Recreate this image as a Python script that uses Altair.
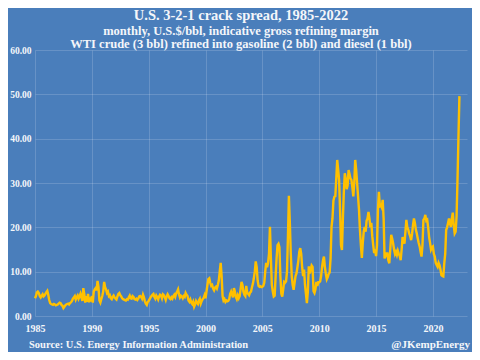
import altair as alt
import pandas as pd

# Monthly indicative 3-2-1 crack spread (US$/bbl)
y1985 = [4.0, 4.5, 5.3, 5.5, 5.2, 4.5, 4.2, 4.6, 4.9, 4.4, 4.6, 5.0]
y1986 = [5.4, 5.7, 4.8, 3.6, 2.9, 2.7, 2.6, 2.5, 2.7, 2.6, 2.4, 2.5]
y1987 = [2.6, 2.8, 3.0, 2.9, 2.5, 2.3, 1.8, 2.1, 2.4, 2.6, 2.7, 2.8]
y1988 = [2.6, 2.9, 3.1, 3.4, 3.9, 4.2, 4.5, 3.7, 4.2, 4.6, 3.9, 4.4]
y1989 = [5.0, 4.2, 3.4, 6.3, 5.0, 3.0, 4.5, 3.2, 5.0, 3.1, 4.2, 3.3]
y1990 = [4.5, 3.0, 5.5, 6.0, 6.3, 5.8, 7.9, 6.5, 3.5, 3.0, 3.8, 4.5]
y1991 = [5.5, 7.7, 6.5, 6.0, 5.2, 5.5, 4.5, 4.7, 4.0, 3.8, 4.3, 4.6]
y1992 = [4.2, 3.9, 3.7, 4.4, 5.0, 5.2, 4.7, 4.4, 4.0, 3.8, 3.7, 3.6]
y1993 = [3.5, 3.8, 3.7, 4.2, 4.6, 4.0, 3.9, 4.5, 4.3, 3.8, 3.7, 3.9]
y1994 = [3.6, 3.9, 4.4, 4.5, 4.3, 3.9, 4.8, 4.2, 3.3, 2.8, 2.5, 3.2]
y1995 = [3.4, 3.8, 4.2, 4.5, 4.8, 5.0, 4.3, 3.9, 4.6, 4.2, 3.7, 4.4]
y1996 = [4.8, 4.6, 4.0, 4.9, 4.7, 4.2, 3.6, 4.4, 4.9, 4.5, 4.0, 3.8]
y1997 = [4.2, 3.9, 4.5, 4.8, 4.3, 5.1, 5.5, 6.0, 4.9, 4.2, 4.6, 4.4]
y1998 = [4.0, 4.5, 4.3, 5.2, 4.8, 4.5, 3.5, 3.2, 3.7, 3.0, 2.7, 3.2]
y1999 = [2.1, 2.6, 3.4, 3.0, 2.7, 3.5, 3.9, 2.8, 3.4, 3.8, 4.1, 4.7]
y2000 = [4.0, 5.5, 7.0, 8.3, 8.5, 7.5, 6.8, 7.0, 6.2, 5.8, 6.4, 6.6]
y2001 = [6.2, 7.0, 8.0, 10.0, 12.0, 9.0, 4.5, 3.5, 3.8, 3.2, 3.5, 3.3]
y2002 = [3.4, 3.8, 5.0, 5.5, 4.8, 4.2, 6.3, 5.5, 4.3, 3.8, 4.6, 4.0]
y2003 = [4.5, 6.0, 7.7, 7.0, 5.5, 4.8, 4.5, 6.8, 5.2, 5.0, 4.7, 5.3]
y2004 = [5.5, 6.5, 7.3, 8.5, 10.0, 12.3, 11.0, 8.0, 6.8, 6.6, 6.7, 6.5]
y2005 = [6.6, 6.8, 7.5, 10.0, 12.0, 11.0, 12.0, 14.0, 20.1, 13.0, 7.0, 5.5]
y2006 = [4.4, 4.6, 9.0, 13.0, 16.0, 16.3, 15.5, 9.0, 5.0, 4.4, 6.0, 7.7]
y2007 = [7.5, 7.8, 10.0, 18.0, 27.1, 21.0, 14.0, 9.0, 7.0, 5.9, 7.5, 9.0]
y2008 = [9.6, 11.0, 12.5, 14.5, 15.3, 14.0, 11.0, 9.0, 10.5, 7.0, 5.0, 2.9]
y2009 = [5.5, 11.2, 9.6, 10.5, 11.4, 11.1, 5.6, 5.2, 6.0, 7.7, 6.8, 7.6]
y2010 = [7.6, 7.8, 9.0, 11.0, 12.5, 13.4, 11.0, 9.5, 8.3, 8.8, 9.5, 9.8]
y2011 = [13.0, 20.1, 22.0, 26.0, 26.9, 27.0, 31.0, 35.2, 33.0, 30.7, 24.0, 16.0]
y2012 = [14.9, 22.0, 28.0, 32.2, 31.0, 28.6, 29.5, 32.9, 32.0, 31.0, 30.7, 29.0]
y2013 = [27.0, 30.0, 35.2, 33.0, 30.0, 27.0, 24.0, 19.4, 16.0, 13.1, 16.5, 19.0]
y2014 = [20.1, 19.0, 21.5, 22.0, 23.5, 22.0, 20.0, 21.0, 18.0, 16.0, 14.2, 15.0]
y2015 = [13.5, 16.0, 24.0, 28.0, 24.8, 25.0, 24.5, 26.2, 22.0, 13.0, 13.5, 14.1]
y2016 = [14.1, 12.5, 11.9, 15.0, 18.3, 17.5, 16.4, 15.0, 14.0, 14.5, 13.8, 14.7]
y2017 = [14.0, 13.5, 12.6, 15.0, 17.8, 17.0, 16.3, 19.0, 21.7, 20.0, 19.5, 18.6]
y2018 = [18.0, 17.1, 18.5, 20.5, 22.0, 21.0, 19.5, 18.6, 17.5, 16.5, 15.7, 14.5]
y2019 = [13.4, 16.0, 21.7, 22.0, 22.8, 21.5, 21.7, 20.0, 17.8, 16.5, 15.0, 15.5]
y2020 = [15.7, 14.0, 13.4, 12.0, 11.5, 11.1, 12.0, 11.5, 10.5, 9.2, 9.0, 8.9]
y2021 = [11.9, 14.0, 19.4, 20.0, 21.0, 22.0, 21.0, 20.1, 22.0, 23.3, 20.5, 18.6]
y2022 = [19.0, 22.5, 31.0, 40.5, 49.6]

yearly = {
    1985: y1985, 1986: y1986, 1987: y1987, 1988: y1988, 1989: y1989,
    1990: y1990, 1991: y1991, 1992: y1992, 1993: y1993, 1994: y1994,
    1995: y1995, 1996: y1996, 1997: y1997, 1998: y1998, 1999: y1999,
    2000: y2000, 2001: y2001, 2002: y2002, 2003: y2003, 2004: y2004,
    2005: y2005, 2006: y2006, 2007: y2007, 2008: y2008, 2009: y2009,
    2010: y2010, 2011: y2011, 2012: y2012, 2013: y2013, 2014: y2014,
    2015: y2015, 2016: y2016, 2017: y2017, 2018: y2018, 2019: y2019,
    2020: y2020, 2021: y2021, 2022: y2022,
}

x_ticks = [1985, 1990, 1995, 2000, 2005, 2010, 2015, 2020]
y_ticks = [0, 10, 20, 30, 40, 50, 60]

title_text = "U.S. 3-2-1 crack spread, 1985-2022"
subtitle_lines = [
    "monthly, U.S.$/bbl, indicative gross refining margin",
    "WTI crude (3 bbl) refined into gasoline (2 bbl) and diesel (1 bbl)",
]
source_text = "Source: U.S. Energy Information Administration"
handle_text = "@JKempEnergy"

rows = []
for yr, vals in yearly.items():
    for m, v in enumerate(vals):
        rows.append({"t": yr + m / 12.0, "v": v})
df = pd.DataFrame(rows)

FONT = "Liberation Serif"
BG = "#4a7ebb"
TXT = "#f4f6fa"

line = alt.Chart(df).mark_line(color="#ffc000", strokeWidth=2.4).encode(
    x=alt.X("t:Q",
            scale=alt.Scale(domain=[1985, 2023], nice=False, zero=False),
            axis=alt.Axis(values=x_ticks, format="d", title=None,
                          labelFlush=False)),
    y=alt.Y("v:Q",
            scale=alt.Scale(domain=[0, 60], nice=False),
            axis=alt.Axis(values=y_ticks, format=".2f", title=None)),
)

src = alt.Chart(pd.DataFrame({"s": [source_text]})).mark_text(
    align="left", baseline="middle", font=FONT, fontWeight="bold",
    fontSize=10.5, color=TXT
).encode(x=alt.value(-6), y=alt.value(295), text="s:N")

hnd = alt.Chart(pd.DataFrame({"s": [handle_text]})).mark_text(
    align="right", baseline="middle", font=FONT, fontWeight="bold",
    fontSize=11, color=TXT
).encode(x=alt.value(435), y=alt.value(295), text="s:N")

chart = alt.layer(line, src, hnd).properties(
    width=432,
    height=266,
    autosize=alt.AutoSizeParams(type="none"),
    padding={"left": 27, "top": 42, "right": 5, "bottom": 36},
    background=BG,
    title=alt.TitleParams(
        text=title_text,
        subtitle=subtitle_lines,
        anchor="middle",
        dx=-10,
        dy=12,
        offset=6,
        font=FONT,
        fontSize=14.5,
        fontWeight="bold",
        color=TXT,
        subtitleFont=FONT,
        subtitleFontSize=12.5,
        subtitleFontWeight="bold",
        subtitleColor=TXT,
        subtitlePadding=1,
        subtitleLineHeight=13,
    ),
).configure_view(stroke=None).configure_axis(
    domain=False,
    ticks=False,
    grid=True,
    gridColor="#ffffff",
    gridOpacity=0.16,
    gridWidth=1,
    labelFont=FONT,
    labelFontWeight="bold",
    labelFontSize=10,
    labelColor=TXT,
).configure_axisY(labelPadding=4, labelFontSize=9.5).configure_axisX(labelPadding=7)

chart.save("out.html", embed_options={"renderer": "svg", "actions": False})
